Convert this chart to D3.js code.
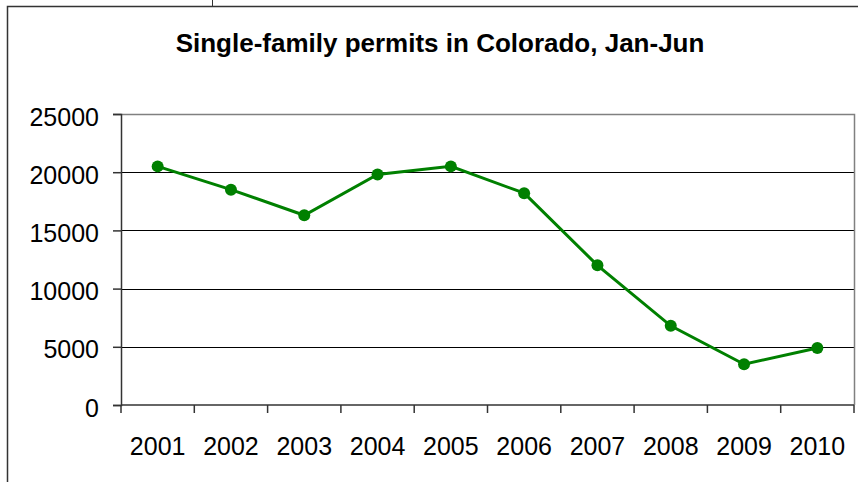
<!DOCTYPE html>
<html>
<head>
<meta charset="utf-8">
<script src="https://cdn.jsdelivr.net/npm/d3@7"></script>
<style>
  body { margin: 0; background: #fff; }
  svg { display: block; font-family: "Liberation Sans", Arial, sans-serif; }
</style>
</head>
<body>
<div id="chart"></div>
<script>
// Chart data
const years = ["2001", "2002", "2003", "2004", "2005", "2006", "2007", "2008", "2009", "2010"];
const permits = [20500, 18500, 16300, 19800, 20500, 18200, 12000, 6800, 3500, 4900];
const yTicks = [0, 5000, 10000, 15000, 20000, 25000];

const W = 858, H = 482;
const margin = {top: 114, right: 4, bottom: 77, left: 121};
const width = W - margin.left - margin.right;
const height = H - margin.top - margin.bottom;

const svg = d3.select("#chart")
    .append("svg")
    .attr("width", W)
    .attr("height", H);

// Outer chart frame (extends past the window)
svg.append("rect")
    .attr("x", 7.5)
    .attr("y", 6.5)
    .attr("width", 900)
    .attr("height", 600)
    .attr("fill", "none")
    .attr("stroke", "#333")
    .attr("stroke-width", 1.5);

svg.append("line")
    .attr("x1", 212.5).attr("x2", 212.5)
    .attr("y1", 0).attr("y2", 6)
    .attr("stroke", "#333");

// Title
svg.append("text")
    .attr("x", 440)
    .attr("y", 52)
    .attr("text-anchor", "middle")
    .style("font-size", "26px")
    .style("font-weight", "bold")
    .text("Single-family permits in Colorado, Jan-Jun");

const g = svg.append("g")
    .attr("transform", "translate(" + margin.left + "," + margin.top + ")");

// Scales
const xScale = d3.scaleBand().domain(years).range([0, width]);
const yScale = d3.scaleLinear().domain([0, 25000]).range([height, 0]);

// Gridlines
g.selectAll(".grid")
    .data(yTicks.filter(d => d > 0))
    .enter()
    .append("line")
    .attr("class", "grid")
    .attr("x1", 0)
    .attr("x2", width)
    .attr("y1", d => Math.round(yScale(d)) + 0.5)
    .attr("y2", d => Math.round(yScale(d)) + 0.5)
    .attr("stroke", "#000")
    .attr("stroke-width", 1);

// Plot area border (top and right)
g.append("path")
    .attr("d", "M0,0.5H" + (width + 0.5) + "V" + height)
    .attr("fill", "none")
    .attr("stroke", "#808080")
    .attr("stroke-width", 1.5);

// Y axis
const yAxis = d3.axisLeft(yScale)
    .tickValues(yTicks)
    .tickSize(8)
    .tickPadding(14)
    .tickFormat(d3.format("d"));

const yG = g.append("g").attr("class", "y-axis").call(yAxis);
yG.select(".domain").attr("stroke", "#333").attr("stroke-width", 1.5);
yG.selectAll(".tick line").attr("stroke", "#333").attr("stroke-width", 1.5);
yG.selectAll(".tick text")
    .attr("dy", "0.44em")
    .style("font-size", "25px")
    .style("font-family", "Liberation Sans, Arial, sans-serif")
    .attr("fill", "#000");

// X axis: ticks at category boundaries
const boundaries = d3.range(years.length + 1).map(i => i * xScale.step());
const xG = g.append("g")
    .attr("class", "x-axis")
    .attr("transform", "translate(0," + height + ")");

xG.append("line")
    .attr("x1", 0).attr("x2", width)
    .attr("y1", 0).attr("y2", 0)
    .attr("stroke", "#333")
    .attr("stroke-width", 1.5);

xG.selectAll(".xtick")
    .data(boundaries)
    .enter()
    .append("line")
    .attr("class", "xtick")
    .attr("x1", d => d).attr("x2", d => d)
    .attr("y1", 0).attr("y2", 8)
    .attr("stroke", "#333")
    .attr("stroke-width", 1.5);

xG.selectAll(".xlabel")
    .data(years)
    .enter()
    .append("text")
    .attr("class", "xlabel")
    .attr("x", d => xScale(d) + xScale.bandwidth() / 2)
    .attr("y", 50)
    .attr("text-anchor", "middle")
    .style("font-size", "25px")
    .text(d => d);

// Line
const line = d3.line()
    .x((d, i) => xScale(years[i]) + xScale.bandwidth() / 2)
    .y(d => yScale(d));

g.append("path")
    .datum(permits)
    .attr("d", line)
    .attr("fill", "none")
    .attr("stroke", "#008000")
    .attr("stroke-width", 3);

// Markers
g.selectAll(".point")
    .data(permits)
    .enter()
    .append("circle")
    .attr("class", "point")
    .attr("cx", (d, i) => xScale(years[i]) + xScale.bandwidth() / 2)
    .attr("cy", d => yScale(d))
    .attr("r", 6)
    .attr("fill", "#008000");
</script>
</body>
</html>
